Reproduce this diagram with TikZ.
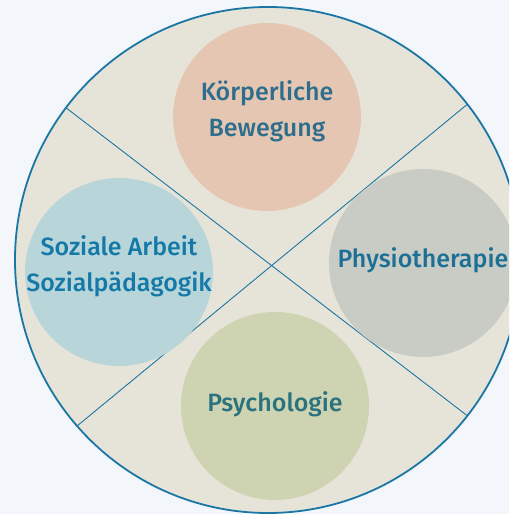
\documentclass[tikz,border=0pt]{standalone}
\usepackage{fontspec}
\setmainfont{Fira Sans}[UprightFont={* Medium}]
\usetikzlibrary{positioning}
\definecolor{PageBlue}{HTML}{F3F7FC}
\definecolor{RingFill}{HTML}{E6E4D8}
\definecolor{RingBlue}{HTML}{1A76A4}
\definecolor{SalmonFill}{HTML}{E5C6B2}
\definecolor{IceFill}{HTML}{B8D6DA}
\definecolor{StoneFill}{HTML}{C9CCC4}
\definecolor{SageFill}{HTML}{CED3B1}
\definecolor{TextTeal}{HTML}{2D6E8C}
\definecolor{TextBlue}{HTML}{1479A7}
\definecolor{TextSea}{HTML}{1C7096}
\definecolor{TextPine}{HTML}{2A727E}
\tikzset{
  ring/.style={circle, draw=RingBlue, fill=RingFill, line width=1.8pt, minimum size=506pt, inner sep=0pt, outer sep=0pt},
  field/.style={circle, minimum size=188pt, inner sep=0pt},
  fieldtext/.style={font=\fontsize{25}{36}\selectfont, align=center},
  divider/.style={RingBlue, line width=0.9pt}
}
\begin{document}
\begin{tikzpicture}[x=1pt, y=1pt]
  \clip (0,0) rectangle (509,514);
  \fill[PageBlue] (0,0) rectangle (509,514);

  \node[ring] (ring) at (268,254) {};

  \draw[divider] (ring.143.6) -- (ring.-38.9);
  \draw[divider] (ring.38.2) -- (ring.221.9);

  \node[field, fill=SalmonFill] (bewegung) at (267,397) {};
  \node[field, fill=IceFill] (sozial) at (119,242) {};
  \node[field, fill=StoneFill] (physio) at (423,251) {};
  \node[field, fill=SageFill] (psycho) at (275,108) {};

  \node[fieldtext, text=TextTeal] at (267,403) {Körperliche\\Bewegung};
  \node[fieldtext, text=TextBlue] at (119,248) {Soziale Arbeit\\Sozialpädagogik};
  \node[fieldtext, text=TextSea] at (423,254) {Physiotherapie};
  \node[fieldtext, text=TextPine] at (275,110) {Psychologie};
\end{tikzpicture}
\end{document}
